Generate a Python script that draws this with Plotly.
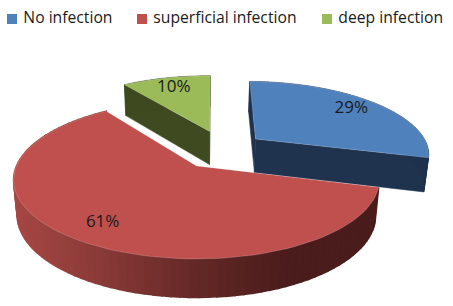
import numpy as np
import plotly.graph_objects as go

categories = ["No infection", "superficial infection", "deep infection"]
values = [29, 61, 10]
labels = ["29%", "61%", "10%"]
top_colors = ["#4F81BD", "#C0504D", "#9BBB59"]
side_colors = ["#1F334F", "#6E2C2A", "#3F4A20"]
text_color = "#1a1a1a"

# pie geometry (pixels / disc units)
CX, CY = 196.5, 166.0
RX, SY, K = 180.0, 76.5, 0.177
ROTATION = 1.0
explode = [(0.35, 0.376), (0.0, 0.0), (0.08, 0.49)]
FONT = "Open Sans"


def top(u, v):
    d = 1 + K * v
    return CX + RX * u / d, CY - SY * v / d


def bottom(u, v):
    d = 1 + K * v
    x, y = top(u, v)
    return CX + (x - CX) * 0.98, y + 34.6 * d ** -0.54


def arc(a0, a1, off, n=90):
    t = np.radians(np.linspace(a0, a1, n))
    return off[0] + np.sin(t), off[1] + np.cos(t)


def poly(x, y, color, line=None, lw=1.6):
    return go.Scatter(x=list(x), y=list(y), mode="lines", fill="toself", fillcolor=color,
                      line=dict(color=line or color, width=lw), hoverinfo="skip", showlegend=False)


def side_shade(x):
    stops_x = [15, 110, 200, 290, 380]
    r = np.interp(x, stops_x, [0xA6, 0x85, 0x62, 0x4A, 0x4A])
    g = np.interp(x, stops_x, [0x47, 0x38, 0x28, 0x1C, 0x1C])
    b = np.interp(x, stops_x, [0x44, 0x36, 0x26, 0x1B, 0x1B])
    return f"rgb({r:.0f},{g:.0f},{b:.0f})"


fig = go.Figure()
bounds = np.cumsum([0] + values) * 3.6 + ROTATION
order = [0, 2, 1]

for i in order:
    a0, a1 = bounds[i], bounds[i + 1]
    off = explode[i]
    au, av = arc(a0, a1, off)
    # radial walls
    for uu, vv in ((au[0], av[0]), (au[-1], av[-1])):
        p1, p2 = top(off[0], off[1]), top(uu, vv)
        p3, p4 = bottom(uu, vv), bottom(off[0], off[1])
        if i != 1:
            fig.add_trace(poly([p1[0], p2[0], p3[0], p4[0], p1[0]],
                               [p1[1], p2[1], p3[1], p4[1], p1[1]], side_colors[i], lw=0.5))
    # outer wall, in strips so the red one can carry its gradient
    for j in range(len(au) - 1):
        t0, t1 = top(au[j], av[j]), top(au[j + 1], av[j + 1])
        b0, b1 = bottom(au[j], av[j]), bottom(au[j + 1], av[j + 1])
        if b0[1] < t0[1] + 1:
            continue
        c = side_shade((t0[0] + t1[0]) / 2) if i == 1 else side_colors[i]
        fig.add_trace(poly([t0[0], t1[0], b1[0], b0[0], t0[0]],
                           [t0[1], t1[1], b1[1], b0[1], t0[1]], c, lw=1.6 if i == 1 else 0.5))
    # top face
    ax, ay = top(au, av)
    ox, oy = top(off[0], off[1])
    fig.add_trace(poly(np.r_[ox, ax, ox], np.r_[oy, ay, oy], top_colors[i],
                       line="rgba(255,255,255,0.3)", lw=0.6))

# percentage labels
lx, ly = [], []
for i in range(3):
    m = np.radians((bounds[i] + bounds[i + 1]) / 2)
    x, y = top(explode[i][0] + 0.8 * np.sin(m), explode[i][1] + 0.8 * np.cos(m))
    lx.append(x)
    ly.append(y)
fig.add_trace(go.Scatter(x=lx, y=ly, mode="text", text=labels, textposition="middle center",
                         textfont=dict(family=FONT, size=17, color=text_color),
                         hoverinfo="skip", showlegend=False))

# legend row
swatch_x = [12, 142, 327]
for i, name in enumerate(categories):
    fig.add_trace(go.Scatter(x=[swatch_x[i]], y=[19], mode="markers+text", name=name,
                             marker=dict(symbol="square", size=10, color=top_colors[i]),
                             text=[" " + name], textposition="middle right",
                             textfont=dict(family=FONT, size=15.7, color=text_color),
                             showlegend=False, hoverinfo="skip", cliponaxis=False))

fig.update_layout(width=453, height=306, margin=dict(l=0, r=0, t=0, b=0),
                  paper_bgcolor="white", plot_bgcolor="white", showlegend=False,
                  xaxis=dict(range=[0, 453], visible=False, fixedrange=True),
                  yaxis=dict(range=[306, 0], visible=False, fixedrange=True))
fig.write_html("out.html", config={"displayModeBar": False},
               post_script="document.body.style.margin='0';document.body.style.overflow='hidden';")
